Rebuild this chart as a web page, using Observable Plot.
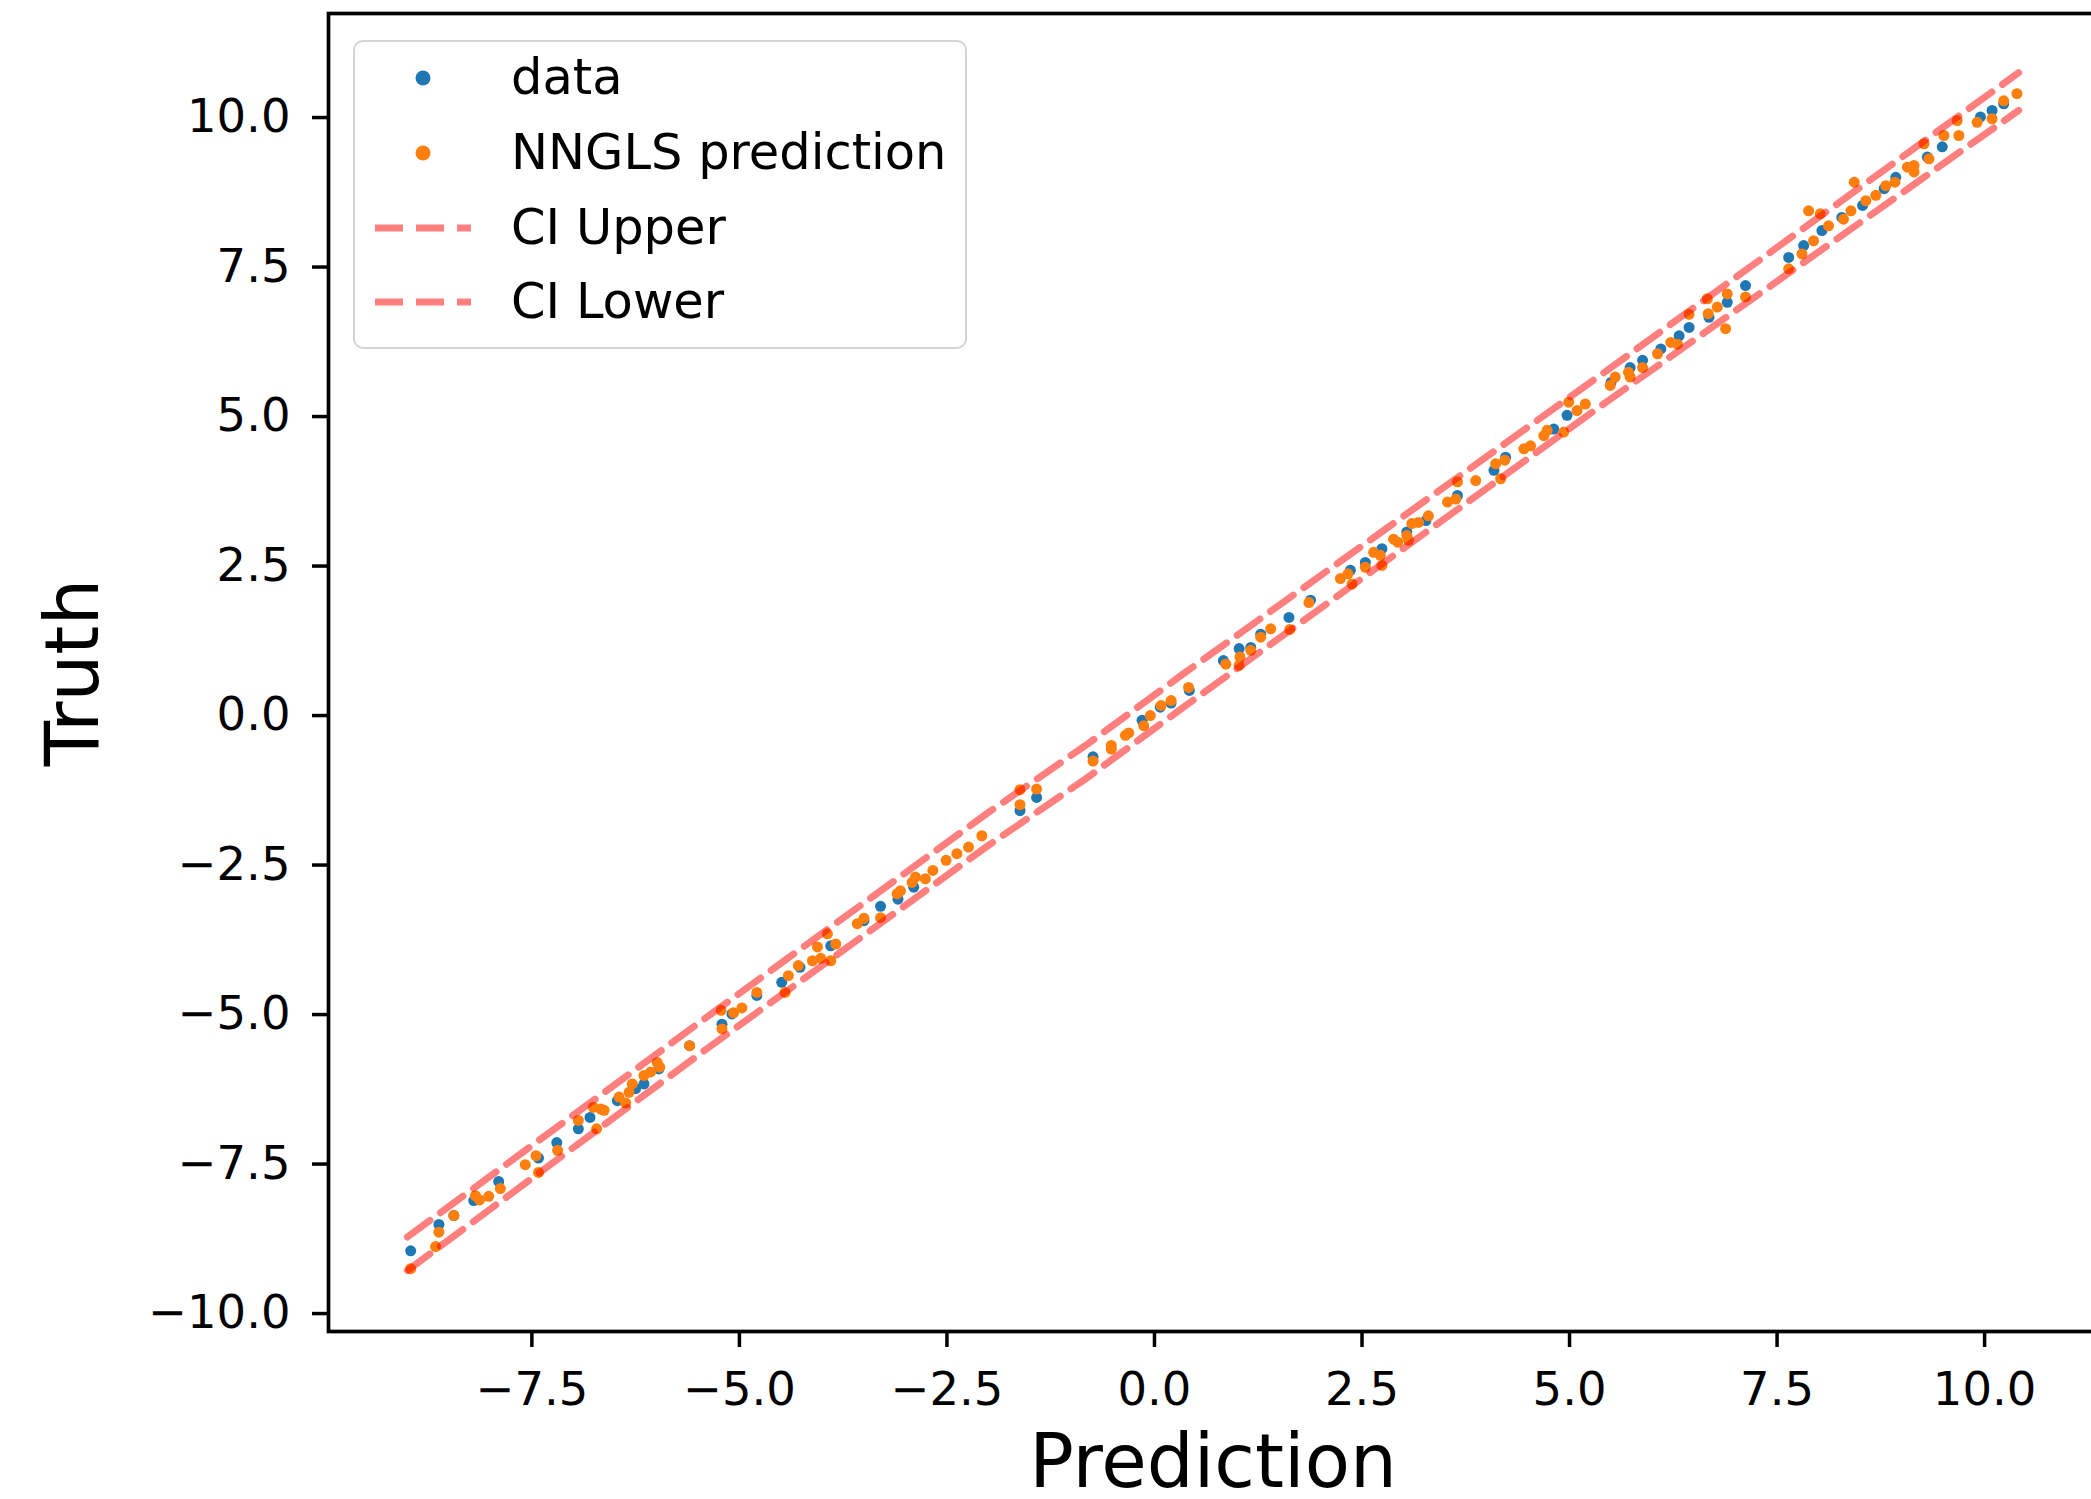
<!DOCTYPE html>
<html><head><meta charset="utf-8">
<script src="https://cdn.jsdelivr.net/npm/d3@7"></script>
<script src="https://cdn.jsdelivr.net/npm/@observablehq/plot@0.6"></script>
<style>
html,body{margin:0;padding:0;background:#fff;overflow:hidden;}
#wrap{position:relative;width:2091px;height:1499px;overflow:hidden;font-family:"DejaVu Sans";}
#wrap > svg{max-width:none !important;}
#legend{position:absolute;left:353px;top:40px;width:614px;height:309px;box-sizing:border-box;border:2.5px solid #d4d4d4;border-radius:10px;background:rgba(255,255,255,0.8);font-size:49.5px;color:#000;}
.row{position:absolute;left:0;width:100%;height:0;}
.row svg{position:absolute;left:0;top:-20px;overflow:visible;}
.row span{position:absolute;left:156px;top:0;transform:translateY(-50%);line-height:1;white-space:nowrap;}
</style></head><body><div id="wrap"></div>
<script>
const xTicks = [-7.5, -5.0, -2.5, 0.0, 2.5, 5.0, 7.5, 10.0];
const yTicks = [-10.0, -7.5, -5.0, -2.5, 0.0, 2.5, 5.0, 7.5, 10.0];

const dataX = [-8.96,-8.62,-8.44,-8.20,-7.90,-7.42,-7.20,-6.94,-6.80,-6.47,-6.25,-6.15,-5.97,-5.60,-5.21,-5.09,-4.79,-4.49,-4.27,-3.90,-3.50,-3.30,-3.09,-2.90,-1.62,-1.42,-0.74,-0.15,0.07,0.20,0.42,0.83,1.02,1.16,1.28,1.62,1.88,2.36,2.54,2.74,3.04,3.27,3.65,4.09,4.23,4.81,4.97,5.50,5.73,5.88,6.10,6.32,6.44,6.68,6.90,7.12,7.64,7.82,8.04,8.28,8.53,8.79,8.93,9.31,9.49,9.95,10.09,10.23];
const dataY = [-8.95,-8.51,-8.36,-8.11,-7.79,-7.40,-7.14,-6.91,-6.72,-6.44,-6.24,-6.16,-5.91,-5.52,-5.16,-4.99,-4.68,-4.46,-4.21,-3.85,-3.43,-3.19,-3.07,-2.87,-1.59,-1.37,-0.69,-0.08,0.14,0.21,0.42,0.92,1.12,1.14,1.36,1.64,1.93,2.43,2.56,2.79,3.07,3.26,3.68,4.10,4.32,4.79,5.02,5.57,5.82,5.94,6.13,6.35,6.49,6.66,6.91,7.19,7.66,7.86,8.11,8.33,8.53,8.81,9.00,9.34,9.51,10.01,10.12,10.23];

const predX = [-8.96,-8.62,-8.66,-8.44,-8.18,-8.13,-8.02,-7.88,-7.58,-7.45,-7.42,-7.19,-6.94,-6.72,-6.76,-6.67,-6.63,-6.45,-6.37,-6.33,-6.29,-6.15,-6.07,-5.99,-5.96,-5.60,-5.21,-5.22,-5.07,-4.97,-4.79,-4.45,-4.41,-4.29,-4.12,-4.06,-4.02,-3.90,-3.84,-3.94,-3.58,-3.50,-3.30,-3.10,-3.06,-2.92,-2.88,-2.76,-2.67,-2.51,-2.38,-2.24,-2.08,-1.62,-1.62,-1.42,-0.74,-0.52,-0.52,-0.35,-0.31,-0.13,-0.05,0.08,0.20,0.41,0.86,1.02,1.03,1.16,1.28,1.40,1.63,1.86,2.24,2.33,2.38,2.54,2.64,2.72,2.74,2.88,2.93,3.04,3.06,3.10,3.18,3.30,3.53,3.63,3.65,3.87,4.11,4.17,4.22,4.45,4.53,4.69,4.73,4.93,4.99,5.09,5.19,5.49,5.55,5.73,5.71,5.88,6.06,6.22,6.30,6.44,6.66,6.67,6.78,6.90,6.88,7.12,7.64,7.80,7.88,8.02,7.94,8.12,8.30,8.39,8.43,8.57,8.69,8.81,8.92,9.07,9.15,9.15,9.27,9.33,9.51,9.67,9.69,9.91,10.09,10.23,10.39];
const predY = [-9.25,-8.64,-8.88,-8.36,-8.03,-8.10,-8.04,-7.91,-7.51,-7.36,-7.64,-7.27,-6.77,-6.91,-6.55,-6.58,-6.60,-6.38,-6.48,-6.30,-6.16,-6.02,-5.96,-5.80,-5.88,-5.52,-5.24,-4.93,-4.97,-4.89,-4.63,-4.63,-4.35,-4.18,-4.10,-3.87,-4.06,-4.10,-3.82,-3.65,-3.48,-3.39,-3.38,-2.98,-2.93,-2.79,-2.70,-2.73,-2.59,-2.42,-2.31,-2.20,-2.01,-1.49,-1.24,-1.23,-0.76,-0.50,-0.56,-0.33,-0.29,-0.17,0.00,0.17,0.25,0.47,0.86,0.84,0.98,1.09,1.31,1.45,1.44,1.89,2.29,2.37,2.20,2.48,2.73,2.68,2.51,2.95,2.90,3.01,2.93,3.21,3.23,3.34,3.57,3.62,3.91,3.93,4.21,3.96,4.27,4.46,4.51,4.68,4.77,4.74,5.24,5.10,5.21,5.52,5.66,5.66,5.74,5.82,6.05,6.24,6.21,6.71,6.97,6.72,6.83,7.05,6.47,7.00,7.47,7.72,8.44,8.39,7.94,8.19,8.30,8.44,8.92,8.61,8.70,8.86,8.92,9.17,9.20,9.09,9.56,9.31,9.70,9.95,9.70,9.92,9.98,10.28,10.40];

const ciX = [-9.00, -5.40, -2.00, -0.83, 0.35, 5.37, 10.41];
const ciUpper = [-8.72, -5.05, -1.62, -0.50, 0.70, 5.69, 10.75];
const ciLower = [-9.28, -5.58, -2.17, -1.06, 0.14, 5.17, 10.12];

const legendLabels = ["data", "NNGLS prediction", "CI Upper", "CI Lower"];
const colors = {data: "#1f77b4", pred: "#ff7f0e", ci: "red"};

const dataRows = dataX.map((x, i) => ({x, y: dataY[i]}));
const predRows = predX.map((x, i) => ({x, y: predY[i]}));
const ciRows = ciX.map((x, i) => ({x, upper: ciUpper[i], lower: ciLower[i]}));

const fmt = d3.format(".1f");
const dash = {stroke: colors.ci, strokeOpacity: 0.5, strokeWidth: 7, strokeDasharray: "28,13"};

const chart = Plot.plot({
  width: 2097, height: 1499,
  marginLeft: 328, marginRight: 0, marginTop: 13, marginBottom: 168,
  style: {fontFamily: "DejaVu Sans", fontSize: "46.5px", background: "white", color: "black", overflow: "hidden", maxWidth: "none"},
  x: {domain: [-9.95, 11.36]},
  y: {domain: [-10.30, 11.74]},
  marks: [
    Plot.dot(dataRows, {x: "x", y: "y", r: 5.5, fill: colors.data}),
    Plot.dot(predRows, {x: "x", y: "y", r: 5.5, fill: colors.pred}),
    Plot.line(ciRows, {x: "x", y: "upper", ...dash}),
    Plot.line(ciRows, {x: "x", y: "lower", ...dash}),
    Plot.frame({stroke: "black", strokeWidth: 3.7}),
    Plot.axisX({ticks: xTicks, tickFormat: fmt, tickSize: 16, tickPadding: 24, strokeWidth: 3.5, label: null, fontSize: 46.5}),
    Plot.axisY({ticks: yTicks, tickFormat: fmt, tickSize: 16, tickPadding: 22, strokeWidth: 3.5, label: null, fontSize: 46.5}),
    Plot.text(["Prediction"], {frameAnchor: "bottom", dy: 155, fontSize: 74}),
    Plot.text(["Truth"], {frameAnchor: "left", textAnchor: "middle", lineAnchor: "middle", dx: -254, rotate: -90, fontSize: 74})
  ]
});
const wrap = document.getElementById("wrap");
wrap.appendChild(chart);

// legend
const legend = document.createElement("div");
legend.id = "legend";
const rowY = [36, 111, 186, 260];
legendLabels.forEach((lab, i) => {
  const row = document.createElement("div");
  row.className = "row";
  row.style.top = rowY[i] + "px";
  let sw;
  if (i < 2) {
    sw = `<svg width="140" height="40"><circle cx="68" cy="20" r="7.5" fill="${i === 0 ? colors.data : colors.pred}"/></svg>`;
  } else {
    sw = `<svg width="140" height="40"><line x1="20" x2="116" y1="20" y2="20" stroke="red" stroke-opacity="0.5" stroke-width="7" stroke-dasharray="28,13"/></svg>`;
  }
  row.innerHTML = sw + `<span>${lab}</span>`;
  legend.appendChild(row);
});
wrap.appendChild(legend);
</script>
</body></html>
